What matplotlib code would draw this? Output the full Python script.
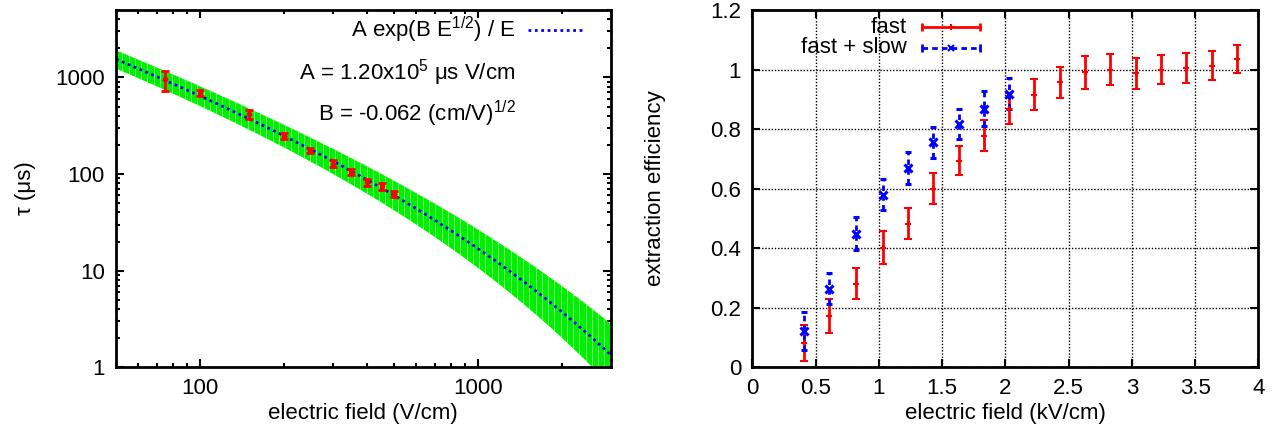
import numpy as np
from matplotlib import pyplot as plt

plt.rcParams['font.family'] = ['Liberation Sans', 'DejaVu Sans']
plt.rcParams['font.size'] = 16
plt.rcParams['mathtext.fontset'] = 'custom'
plt.rcParams['mathtext.rm'] = 'Liberation Sans'
plt.rcParams['mathtext.it'] = 'Liberation Sans'

# left panel: electron lifetime vs drift field
field_vcm = [75, 100, 150, 200, 250, 300, 350, 400, 450, 500]
tau_us = [953, 695, 416, 247, 176, 128, 106, 82, 75, 62.5]
tau_err = [220, 55, 45, 18, 12, 11, 8, 7, 6, 5]

# fit parameters (from the plot text) and their uncertainties
fit_A = 1.20e5
fit_B = -0.062
sig_lnA = 0.196
sig_B = 0.0131

# right panel: extraction efficiency
field_kv = [0.41, 0.61, 0.82, 1.03, 1.23, 1.43, 1.63, 1.83, 2.03,
            2.23, 2.43, 2.63, 2.83, 3.03, 3.23, 3.43, 3.63, 3.83]
eff_fast = [0.082, 0.171, 0.28, 0.401, 0.482, 0.60, 0.694, 0.778, 0.869,
            0.916, 0.957, 0.991, 1.0, 0.987, 0.999, 1.006, 1.013, 1.035]
err_fast = [0.06, 0.057, 0.052, 0.056, 0.052, 0.052, 0.05, 0.053, 0.053,
            0.052, 0.052, 0.055, 0.052, 0.051, 0.049, 0.051, 0.048, 0.047]
field_kv_all = [0.41, 0.61, 0.82, 1.03, 1.23, 1.43, 1.63, 1.83, 2.03]
eff_all = [0.123, 0.264, 0.448, 0.58, 0.67, 0.756, 0.817, 0.869, 0.918]
err_all = [0.064, 0.053, 0.055, 0.053, 0.053, 0.052, 0.052, 0.058, 0.052]

fig = plt.figure(figsize=(12.75, 4.34), dpi=100)
ax1 = fig.add_axes([0.091, 0.154, 0.388, 0.823])
ax2 = fig.add_axes([0.590, 0.154, 0.397, 0.823])

# ---- left panel ----
E = np.geomspace(50, 3000, 300)
tau_fit = fit_A * np.exp(fit_B * np.sqrt(E)) / E
w = np.sqrt(sig_lnA**2 + sig_B**2 * E)
ax1.fill_between(E, tau_fit * np.exp(-w), tau_fit * np.exp(w), color='#00f000', lw=0)
E_s = np.geomspace(50, 3000, 80)
tf_s = fit_A * np.exp(fit_B * np.sqrt(E_s)) / E_s
w_s = np.sqrt(sig_lnA**2 + sig_B**2 * E_s)
ax1.vlines(E_s, tf_s * np.exp(-w_s), tf_s * np.exp(w_s), color='#80ff80', lw=0.7)
fit_style = dict(color='#0000ff', ls=(0, (1, 1.3)), lw=2)
ax1.plot(E, tau_fit, **fit_style)
ax1.errorbar(field_vcm, tau_us, yerr=tau_err, fmt='o', color='#ff0000', ms=3,
             elinewidth=2, capsize=3, capthick=2)
ax1.set_xscale('log')
ax1.set_yscale('log')
ax1.set_xlim(50, 3000)
ax1.set_ylim(1, 5000)
ax1.set_xticks([100, 1000])
ax1.set_xticklabels(['100', '1000'])
ax1.set_yticks([1, 10, 100, 1000])
ax1.set_yticklabels(['1', '10', '100', '1000'])
ax1.set_xlabel('electric field (V/cm)', labelpad=3)
ax1.set_ylabel('τ (μs)', labelpad=14)

# key for the fit, gnuplot-style
ax1.text(0.808, 0.945, 'A exp(B E$^{1/2}$) / E', transform=ax1.transAxes,
         ha='right', va='center')
ax1.plot([0.832, 0.949], [0.945, 0.945], transform=ax1.transAxes, **fit_style)
ax1.text(0.808, 0.824, 'A = 1.20x10$^5$ μs V/cm', transform=ax1.transAxes,
         ha='right', va='center')
ax1.text(0.808, 0.708, 'B = -0.062 (cm/V)$^{1/2}$', transform=ax1.transAxes,
         ha='right', va='center')

# ---- right panel ----
ax2.errorbar(field_kv, eff_fast, yerr=err_fast, fmt='+', color='#ff0000', ms=4,
             mew=1.5, elinewidth=2, capsize=3, capthick=2)
eb = ax2.errorbar(field_kv_all, eff_all, yerr=err_all, fmt='x', color='#0000ff',
                  ms=6, mew=2.2, elinewidth=2, capsize=2, capthick=2)
eb[2][0].set_linestyle((0, (2, 1.5)))
ax2.set_xlim(0, 4)
ax2.set_ylim(0, 1.2)
ax2.set_xticks(np.arange(0, 4.01, 0.5))
ax2.set_xticklabels(['0', '0.5', '1', '1.5', '2', '2.5', '3', '3.5', '4'])
ax2.set_yticks(np.arange(0, 1.21, 0.2))
ax2.set_yticklabels(['0', '0.2', '0.4', '0.6', '0.8', '1', '1.2'])
ax2.grid(True, color='black', ls=(0, (1, 1.3)), lw=1)
ax2.set_xlabel('electric field (kV/cm)', labelpad=3)
ax2.set_ylabel('extraction efficiency', labelpad=32)

# legend drawn gnuplot-style
for yy, name, col, lst, mk in [(0.952, 'fast', '#ff0000', '-', '+'),
                               (0.894, 'fast + slow', '#0000ff', (0, (2, 1.5)), 'x')]:
    ax2.text(0.306, yy, name, transform=ax2.transAxes, ha='right', va='center')
    ax2.plot([0.335, 0.45], [yy, yy], transform=ax2.transAxes, color=col, ls=lst, lw=2)
    ax2.plot([0.335, 0.45], [yy, yy], transform=ax2.transAxes, color=col, ls='none',
             marker='|', ms=6, mew=2)
    ax2.plot([0.3925], [yy], transform=ax2.transAxes, color=col, ls='none',
             marker=mk, ms=4, mew=1.5)

for ax in (ax1, ax2):
    for s in ax.spines.values():
        s.set_linewidth(2)
    ax.tick_params(which='both', direction='in', top=True, right=True, width=1.5)
    ax.tick_params(which='major', length=6, pad=8)
    ax.tick_params(which='minor', length=3)
    ax.set_axisbelow(True)

fig.savefig('out.png', dpi=100)
